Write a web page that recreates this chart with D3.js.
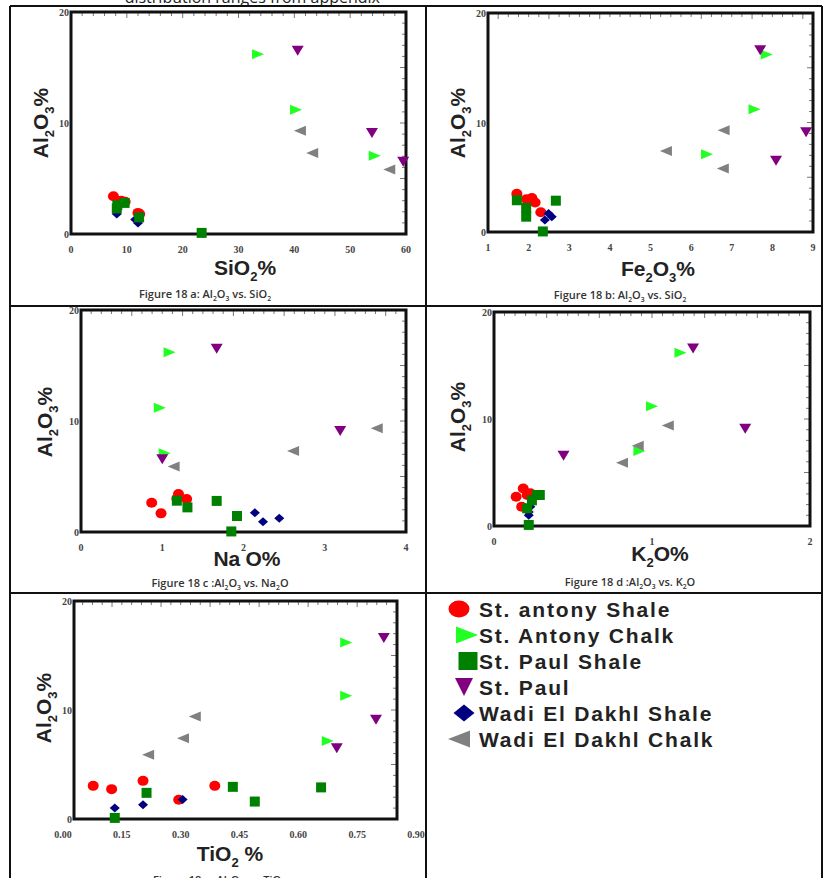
<!DOCTYPE html>
<html>
<head>
<meta charset="utf-8">
<script src="https://cdn.jsdelivr.net/npm/d3@7"></script>
<style>
  body { margin: 0; background: #fff; }
  svg { display: block; }
  .tick-label { font-family: "Liberation Serif", serif; font-weight: bold; font-size: 10px; fill: #444; }
  .axis-title { font-family: "Liberation Sans", Arial, sans-serif; font-weight: bold; font-size: 21px; fill: #222; }
  .caption { font-family: "Open Sans", sans-serif; font-weight: 600; font-size: 11px; fill: #333; }
  .legend-label { font-family: "Liberation Sans", Arial, sans-serif; font-weight: bold; font-size: 21px; letter-spacing: 1.8px; fill: #222; }
  .page-text { font-family: "Open Sans", sans-serif; font-size: 16px; fill: #222; }
</style>
</head>
<body>
<div id="chart"></div>
<script>
// Al2O3 vs major oxides, five scatter panels + legend

const seriesNames = ["St. antony Shale", "St. Antony Chalk", "St. Paul Shale", "St. Paul", "Wadi El Dakhl Shale", "Wadi El Dakhl Chalk"];
const seriesColors = ["#ff0000", "#22ff22", "#008000", "#800080", "#000080", "#808080"];
const seriesShapes = ["circle", "right", "square", "down", "diamond", "left"];
// draw order (index into series) so overlaps look like the original
const drawOrder = [0, 4, 2, 1, 3, 5];

// [oxide %, Al2O3 %] per series, same order as seriesNames
const sio2Points = [
  [[7.6, 3.4], [9.0, 3.0], [9.7, 2.9], [12.3, 1.8], [12.0, 1.9]],
  [[33.5, 16.2], [40.3, 11.2], [54.4, 7.05]],
  [[8.2, 2.3], [9.6, 2.8], [12.2, 1.5], [23.4, 0.1], [8.3, 2.6]],
  [[40.6, 16.5], [53.9, 9.1], [59.5, 6.5]],
  [[8.2, 1.8], [12.0, 1.0], [11.5, 1.3]],
  [[41.0, 9.3], [43.2, 7.3], [57.0, 5.8]]
];
const fe2o3Points = [
  [[1.71, 3.5], [1.95, 3.0], [2.08, 3.1], [2.16, 2.7], [2.30, 1.8]],
  [[7.86, 16.2], [7.56, 11.2], [6.39, 7.1]],
  [[1.71, 2.9], [1.94, 2.2], [1.94, 1.4], [2.67, 2.86], [2.35, 0.05]],
  [[7.70, 16.6], [8.83, 9.1], [8.09, 6.5]],
  [[2.40, 1.1], [2.57, 1.4], [2.49, 1.7]],
  [[6.80, 9.3], [5.38, 7.4], [6.78, 5.8]]
];
const na2oPoints = [
  [[0.87, 2.64], [0.985, 1.68], [1.2, 3.42], [1.3, 2.97], [1.18, 3.0]],
  [[1.09, 16.2], [0.97, 11.2], [1.03, 7.1]],
  [[1.18, 2.82], [1.31, 2.22], [1.67, 2.8], [1.92, 1.44], [1.85, 0.05]],
  [[1.67, 16.5], [3.19, 9.1], [1.0, 6.55]],
  [[2.14, 1.74], [2.24, 0.93], [2.44, 1.23]],
  [[3.64, 9.34], [2.61, 7.3], [1.14, 5.9]]
];
const k2oPoints = [
  [[0.14, 2.74], [0.185, 3.5], [0.175, 1.8], [0.23, 3.06], [0.21, 2.9]],
  [[1.18, 16.2], [1.0, 11.2], [0.92, 7.0]],
  [[0.27, 2.9], [0.24, 2.4], [0.21, 1.65], [0.22, 0.1], [0.29, 2.9]],
  [[1.26, 16.6], [1.59, 9.1], [0.44, 6.57]],
  [[0.22, 1.0], [0.23, 1.8], [0.22, 1.3]],
  [[1.10, 9.4], [0.91, 7.5], [0.81, 5.9]]
];
const tio2Points = [
  [[0.077, 3.04], [0.124, 2.74], [0.204, 3.5], [0.295, 1.77], [0.387, 3.04]],
  [[0.722, 16.2], [0.722, 11.3], [0.675, 7.15]],
  [[0.132, 0.1], [0.213, 2.4], [0.433, 2.95], [0.489, 1.6], [0.658, 2.9]],
  [[0.818, 16.6], [0.798, 9.1], [0.698, 6.5]],
  [[0.132, 1.0], [0.204, 1.3], [0.305, 1.8]],
  [[0.336, 9.4], [0.306, 7.4], [0.217, 5.9]]
];

const yTicks = [0, 10, 20];
const sio2Ticks = [0, 10, 20, 30, 40, 50, 60];
const fe2o3Ticks = [1, 2, 3, 4, 5, 6, 7, 8, 9];
const na2oTicks = [0, 1, 2, 3, 4];
const k2oTicks = [0, 1, 2];
const tio2Ticks = [0, 0.15, 0.30, 0.45, 0.60, 0.75, 0.90];

const panels = [
  { pts: sio2Points, xDomain: [0, 60], ticks: sio2Ticks, fmt: d3.format("d"), minor: 2,
    box: [71, 12, 406, 234], xRange: [71, 406],
    xTitle: [["Si"], ["O"], ["2", "sub"], ["%"]], xTitlePos: [245, 275], yTitlePos: [48, 123],
    caption: [["Figure 18 a: Al"], ["2", "sub"], ["O"], ["3", "sub"], [" vs. SiO"], ["2", "sub"]], capPos: [205, 298] },
  { pts: fe2o3Points, xDomain: [1, 9], ticks: fe2o3Ticks, fmt: d3.format("d"), minor: 0.25,
    box: [488, 13, 813, 232], xRange: [488, 813],
    xTitle: [["Fe"], ["2", "sub"], ["O"], ["3", "sub"], ["%"]], xTitlePos: [658, 276], yTitlePos: [465, 123],
    caption: [["Figure 18  b: Al"], ["2", "sub"], ["O"], ["3", "sub"], [" vs. SiO"], ["2", "sub"]], capPos: [620, 299] },
  { pts: na2oPoints, xDomain: [0, 4], ticks: na2oTicks, fmt: d3.format("d"), minor: 0.125,
    box: [81, 310, 406, 532], xRange: [81, 406],
    xTitle: [["Na"], ["\u2009\u2009", "sup"], ["O%"]], xTitlePos: [247, 566], yTitlePos: [52, 422],
    caption: [["Figure 18 c :Al"], ["2", "sub"], ["O"], ["3", "sub"], [" vs. Na"], ["2", "sub"], ["O"]], capPos: [220, 587] },
  { pts: k2oPoints, xDomain: [0, 2], ticks: k2oTicks, fmt: d3.format("d"), minor: 1 / 15,
    box: [494, 312, 810, 526], xRange: [494, 810],
    xTitle: [["K"], ["2", "sub"], ["O%"]], xTitlePos: [660, 561], yTitlePos: [465, 417],
    caption: [["Figure 18 d :Al"], ["2", "sub"], ["O"], ["3", "sub"], [" vs. K"], ["2", "sub"], ["O"]], capPos: [630, 586] },
  { pts: tio2Points, xDomain: [0, 0.9], ticks: tio2Ticks, fmt: d3.format(".2f"), minor: 0.025,
    box: [74, 601, 397, 819], xRange: [63, 416],
    xTitle: [["TiO"], ["2", "sub"], [" %"]], xTitlePos: [230, 861], yTitlePos: [51, 708],
    caption: [["Figure 18 e: Al"], ["2", "sub"], ["O"], ["3", "sub"], [" vs. TiO"], ["2", "sub"]], capPos: [219, 884] }
];

const W = 823, H = 878;
const svg = d3.select("#chart").append("svg").attr("width", W).attr("height", H);
svg.append("rect").attr("width", W).attr("height", H).attr("fill", "#fff");

// page text above the table, cropped by the top edge
svg.append("text").attr("class", "page-text")
  .attr("x", 380).attr("y", 3).attr("text-anchor", "end")
  .text("distribution ranges from appendix");

function markerPath(kind, w, h) {
  const a = w / 2, b = h / 2;
  switch (kind) {
    case "circle": return `M${-a},0A${a},${b} 0 1 0 ${a},0A${a},${b} 0 1 0 ${-a},0Z`;
    case "right": return `M${-a},${-b}L${a},0L${-a},${b}Z`;
    case "left": return `M${a},${-b}L${-a},0L${a},${b}Z`;
    case "down": return `M${-a},${-b}L${a},${-b}L0,${b}Z`;
    case "square": return `M${-a},${-b}H${a}V${b}H${-a}Z`;
    case "diamond": return `M0,${-b}L${a},0L0,${b}L${-a},0Z`;
  }
}
const plotSize = { circle: [11, 10], right: [12, 10], square: [10, 10], down: [12, 10], diamond: [10, 9], left: [12, 10] };
const legendSize = { circle: [21, 17], right: [22, 17], square: [19, 18], down: [18, 18], diamond: [21, 17], left: [22, 17] };

// text with sub/superscripts
function chemText(sel, parts, size) {
  let shift = 0;
  parts.forEach(([t, kind]) => {
    const ts = sel.append("tspan").text(t);
    let target = 0;
    if (kind === "sub") target = size * 0.3;
    if (kind === "sup") target = -size * 0.35;
    ts.attr("dy", target - shift);
    if (kind) ts.style("font-size", (size * 0.62) + "px");
    shift = target;
  });
}

panels.forEach(p => {
  const [x0, y0, x1, y1] = p.box;
  const x = d3.scaleLinear().domain(p.xDomain).range(p.xRange);
  const y = d3.scaleLinear().domain([0, 20]).range([y1, y0]);
  const g = svg.append("g");

  // minor ticks along top edge (inward)
  const minorX = d3.range(p.xDomain[0], p.xDomain[1] + 1e-9, p.minor)
    .filter(v => x(v) > x0 + 2 && x(v) < x1 - 2);
  g.selectAll(".mt").data(minorX).join("line")
    .attr("x1", d => x(d)).attr("x2", d => x(d))
    .attr("y1", y0).attr("y2", d => y0 + (Math.abs(d / (p.minor * 5) - Math.round(d / (p.minor * 5))) < 1e-6 ? 6 : 4))
    .attr("stroke", "#777").attr("stroke-width", 1);
  // minor ticks along right edge (inward)
  const minorY = d3.range(1, 20, 1);
  g.selectAll(".rt").data(minorY).join("line")
    .attr("x1", x1).attr("x2", d => x1 - (d % 5 === 0 ? 6 : 4))
    .attr("y1", d => y(d)).attr("y2", d => y(d))
    .attr("stroke", "#777").attr("stroke-width", 1);

  // frame
  g.append("rect")
    .attr("x", x0).attr("y", y0).attr("width", x1 - x0).attr("height", y1 - y0)
    .attr("fill", "none").attr("stroke", "#111").attr("stroke-width", 3);

  // tick labels
  g.selectAll(".xl").data(p.ticks).join("text")
    .attr("class", "tick-label")
    .attr("x", d => x(d)).attr("y", y1 + 19)
    .attr("text-anchor", "middle")
    .text(p.fmt);
  g.selectAll(".yl").data(yTicks).join("text")
    .attr("class", "tick-label")
    .attr("x", x0 - 2).attr("y", d => y(d) + 4)
    .attr("text-anchor", "end")
    .text(d => d);

  // points
  drawOrder.forEach(si => {
    const kind = seriesShapes[si];
    const [w, h] = plotSize[kind];
    g.selectAll(null).data(p.pts[si]).join("path")
      .attr("d", markerPath(kind, w, h))
      .attr("transform", d => `translate(${x(d[0])},${y(d[1])})`)
      .attr("fill", seriesColors[si]);
  });

  // axis titles
  const xt = g.append("text").attr("class", "axis-title")
    .attr("x", p.xTitlePos[0]).attr("y", p.xTitlePos[1]).attr("text-anchor", "middle");
  chemText(xt, p.xTitle, 21);
  const yt = g.append("text").attr("class", "axis-title")
    .attr("transform", `translate(${p.yTitlePos[0]},${p.yTitlePos[1]}) rotate(-90)`)
    .attr("text-anchor", "middle");
  chemText(yt, [["Al"], ["2", "sub"], ["O"], ["3", "sub"], ["%"]], 21);

  // caption
  const cap = g.append("text").attr("class", "caption")
    .attr("x", p.capPos[0]).attr("y", p.capPos[1]).attr("text-anchor", "middle");
  chemText(cap, p.caption, 11);
});

// table grid lines
const gridV = [10, 426, 822];
const gridH = [6, 306, 593];
svg.selectAll(".gv").data(gridV).join("line")
  .attr("x1", d => d).attr("x2", d => d).attr("y1", 6).attr("y2", H)
  .attr("stroke", "#111").attr("stroke-width", 2);
svg.selectAll(".gh").data(gridH).join("line")
  .attr("x1", 10).attr("x2", 822).attr("y1", d => d).attr("y2", d => d)
  .attr("stroke", "#111").attr("stroke-width", 2);

// legend
const legend = svg.append("g");
seriesNames.forEach((name, i) => {
  const kind = seriesShapes[i];
  const [w, h] = legendSize[kind];
  const by = 617 + i * 26;
  const mx = { circle: 459, right: 467, square: 468, down: 464, diamond: 464, left: 459 }[kind];
  legend.append("path")
    .attr("d", markerPath(kind, w, h))
    .attr("transform", `translate(${mx},${by - 8})`)
    .attr("fill", seriesColors[i]);
  legend.append("text").attr("class", "legend-label")
    .attr("x", 479).attr("y", by).text(name);
});
</script>
</body>
</html>
